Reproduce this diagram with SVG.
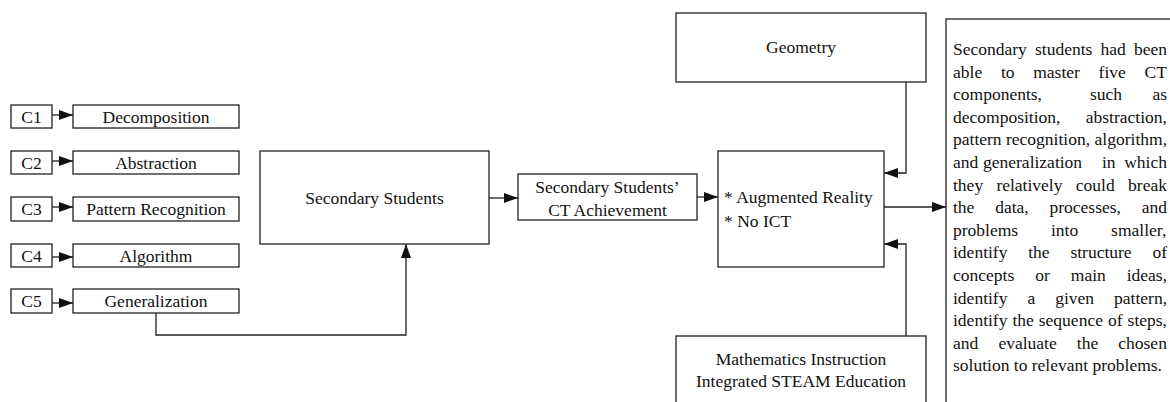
<svg xmlns="http://www.w3.org/2000/svg" width="1170" height="402" viewBox="0 0 1170 402">
  <style>
    .box { fill: #ffffff; stroke: #222222; stroke-width: 1.3; }
    .lbl { font-family: "Liberation Serif", "Times New Roman", serif; font-size: 17.5px; fill: #111111; text-anchor: middle; }
    .lft { font-family: "Liberation Serif", "Times New Roman", serif; font-size: 17.5px; fill: #111111; }
    .para { font-family: "Liberation Serif", "Times New Roman", serif; font-size: 17.5px; fill: #111111; }
    .wire { fill: none; stroke: #222222; stroke-width: 1.3; }
  </style>
  <defs>
    <marker id="arrow" viewBox="0 0 14 10" refX="14" refY="5" markerWidth="14" markerHeight="10" markerUnits="userSpaceOnUse" orient="auto">
      <path d="M0,0 L14,5 L0,10 Z" fill="#111111"/>
    </marker>
  </defs>

  <rect width="1170" height="402" fill="#ffffff"/>

  <!-- CT component codes -->
  <g id="c1"><rect class="box" x="11" y="105" width="41" height="23"/><text class="lbl" x="31.5" y="122.5">C1</text></g>
  <g id="c2"><rect class="box" x="11" y="151" width="41" height="23"/><text class="lbl" x="31.5" y="168.5">C2</text></g>
  <g id="c3"><rect class="box" x="11" y="197" width="41" height="24"/><text class="lbl" x="31.5" y="215">C3</text></g>
  <g id="c4"><rect class="box" x="11" y="244" width="41" height="23"/><text class="lbl" x="31.5" y="261.5">C4</text></g>
  <g id="c5"><rect class="box" x="11" y="289" width="41" height="24"/><text class="lbl" x="31.5" y="307">C5</text></g>

  <!-- CT components -->
  <g id="decomposition"><rect class="box" x="73" y="105" width="166" height="23"/><text class="lbl" x="156" y="122.5">Decomposition</text></g>
  <g id="abstraction"><rect class="box" x="73" y="151" width="166" height="23"/><text class="lbl" x="156" y="168.5">Abstraction</text></g>
  <g id="pattern-recognition"><rect class="box" x="73" y="197" width="166" height="24"/><text class="lbl" x="156" y="215">Pattern Recognition</text></g>
  <g id="algorithm"><rect class="box" x="73" y="244" width="166" height="23"/><text class="lbl" x="156" y="261.5">Algorithm</text></g>
  <g id="generalization"><rect class="box" x="73" y="289" width="166" height="24"/><text class="lbl" x="156" y="307">Generalization</text></g>

  <!-- Main flow -->
  <g id="secondary-students"><rect class="box" x="260" y="151" width="229" height="93"/><text class="lbl" x="374.5" y="203.5">Secondary Students</text></g>
  <g id="ct-achievement"><rect class="box" x="518" y="174" width="179" height="46"/>
    <text class="lbl" x="607.5" y="193">Secondary Students’</text>
    <text class="lbl" x="607.5" y="216">CT Achievement</text>
  </g>
  <g id="treatment"><rect class="box" x="718" y="151" width="166" height="116"/>
    <text class="lft" x="724" y="203">* Augmented Reality</text>
    <text class="lft" x="724" y="227">* No ICT</text>
  </g>
  <g id="geometry"><rect class="box" x="676" y="13" width="250" height="69"/><text class="lbl" x="801" y="53">Geometry</text></g>
  <g id="steam"><rect class="box" x="676" y="336" width="250" height="80"/>
    <text class="lbl" x="801" y="365">Mathematics Instruction</text>
    <text class="lbl" x="801" y="387">Integrated STEAM Education</text>
  </g>

  <!-- Findings (justified paragraph, one text per line) -->
  <g id="findings">
    <rect class="box" x="946" y="19" width="240" height="400"/>
    <text class="para" y="55"><tspan x="953">Secondary</tspan><tspan x="1035">students</tspan><tspan x="1100.5">had</tspan><tspan x="1133.9">been</tspan></text>
    <text class="para" y="77.6"><tspan x="953">able</tspan><tspan x="1000.9">to</tspan><tspan x="1033.2">master</tspan><tspan x="1098.6">five</tspan><tspan x="1144.5">CT</tspan></text>
    <text class="para" y="100.2"><tspan x="953">components,</tspan><tspan x="1090">such</tspan><tspan x="1152.4">as</tspan></text>
    <text class="para" y="122.8"><tspan x="953">decomposition,</tspan><tspan x="1085.8">abstraction,</tspan></text>
    <text class="para" y="145.4"><tspan x="953">pattern</tspan><tspan x="1006">recognition,</tspan><tspan x="1094.6">algorithm,</tspan></text>
    <text class="para" y="168"><tspan x="953">and</tspan><tspan x="983">generalization</tspan><tspan x="1102">in</tspan><tspan x="1124.2">which</tspan></text>
    <text class="para" y="190.6"><tspan x="953">they</tspan><tspan x="996.4">relatively</tspan><tspan x="1075.8">could</tspan><tspan x="1128.1">break</tspan></text>
    <text class="para" y="213.2"><tspan x="953">the</tspan><tspan x="995.2">data,</tspan><tspan x="1049.5">processes,</tspan><tspan x="1141.7">and</tspan></text>
    <text class="para" y="235.8"><tspan x="953">problems</tspan><tspan x="1051">into</tspan><tspan x="1111.1">smaller,</tspan></text>
    <text class="para" y="258.4"><tspan x="953">identify</tspan><tspan x="1028.2">the</tspan><tspan x="1070.4">structure</tspan><tspan x="1152.4">of</tspan></text>
    <text class="para" y="281"><tspan x="953">concepts</tspan><tspan x="1035.2">or</tspan><tspan x="1070.8">main</tspan><tspan x="1126.7">ideas,</tspan></text>
    <text class="para" y="303.6"><tspan x="953">identify</tspan><tspan x="1027.4">a</tspan><tspan x="1055.2">given</tspan><tspan x="1114.1">pattern,</tspan></text>
    <text class="para" y="326.2"><tspan x="953">identify</tspan><tspan x="1012.4">the</tspan><tspan x="1038.8">sequence</tspan><tspan x="1108">of</tspan><tspan x="1127.6">steps,</tspan></text>
    <text class="para" y="348.8"><tspan x="953">and</tspan><tspan x="998.4">evaluate</tspan><tspan x="1076.8">the</tspan><tspan x="1118.3">chosen</tspan></text>
    <text class="para" y="371.4"><tspan x="953">solution to relevant problems.</tspan></text>
  </g>

  <!-- Connectors -->
  <g id="connectors">
    <path class="wire" marker-end="url(#arrow)" d="M52,115 H73"/>
    <path class="wire" marker-end="url(#arrow)" d="M52,161 H73"/>
    <path class="wire" marker-end="url(#arrow)" d="M52,207 H73"/>
    <path class="wire" marker-end="url(#arrow)" d="M52,257 H73"/>
    <path class="wire" marker-end="url(#arrow)" d="M52,303 H73"/>
    <path class="wire" marker-end="url(#arrow)" d="M156,313 V335 H406 V244"/>
    <path class="wire" marker-end="url(#arrow)" d="M489,198 H518"/>
    <path class="wire" marker-end="url(#arrow)" d="M697,197 H718"/>
    <path class="wire" marker-end="url(#arrow)" d="M906,82 V173 H884"/>
    <path class="wire" marker-end="url(#arrow)" d="M906,336 V244 H884"/>
    <path class="wire" marker-end="url(#arrow)" d="M884,207 H946"/>
  </g>
</svg>
